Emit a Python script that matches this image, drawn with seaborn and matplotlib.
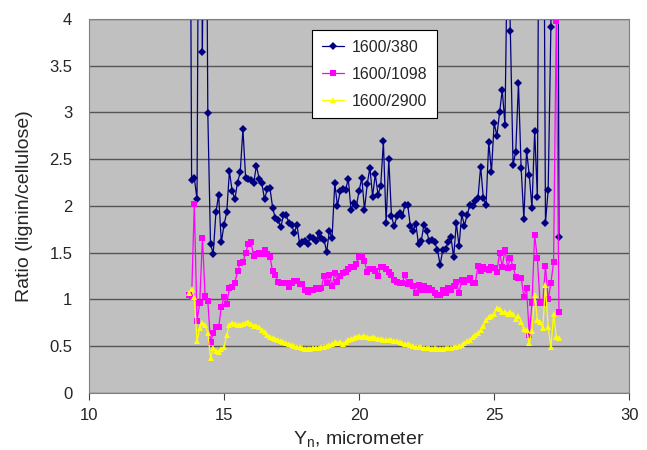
import numpy as np
import pandas as pd
import matplotlib
matplotlib.use("Agg")
import matplotlib.pyplot as plt
import seaborn as sns

# sample positions (micrometer), one reading every 0.1 um
y_pos = np.round(np.arange(137, 275) * 0.1, 1)

ratio_380 = [
    9.0, 2.28, 2.30, 2.07, 8.0, 3.65, 8.0, 2.99, 1.59, 1.49,
    1.93, 2.12, 1.61, 1.80, 1.93, 2.37, 2.16, 2.07, 2.25, 2.36,
    2.82, 2.30, 2.29, 2.28, 2.25, 2.43, 2.29, 2.24, 2.07, 2.18,
    2.19, 1.98, 1.87, 1.85, 1.77, 1.90, 1.90, 1.82, 1.80, 1.71,
    1.80, 1.59, 1.61, 1.62, 1.59, 1.67, 1.66, 1.62, 1.71, 1.66,
    1.64, 1.51, 1.73, 1.66, 2.24, 2.00, 2.16, 2.18, 2.17, 2.29,
    1.96, 2.03, 2.00, 2.16, 2.30, 1.96, 2.23, 2.41, 2.10, 2.34,
    2.12, 2.21, 2.69, 1.82, 2.50, 1.89, 1.78, 1.89, 1.92, 1.89,
    2.01, 2.01, 1.78, 1.73, 1.81, 1.59, 1.62, 1.80, 1.73, 1.62,
    1.63, 1.61, 1.53, 1.37, 1.53, 1.54, 1.61, 1.67, 1.45, 1.82,
    1.57, 1.91, 1.79, 1.90, 2.01, 2.00, 2.05, 2.08, 2.42, 2.08,
    2.01, 2.68, 2.36, 2.89, 2.75, 3.00, 3.24, 2.87, 5.0, 3.87,
    2.44, 2.58, 3.31, 2.40, 1.86, 2.59, 2.33, 1.98, 2.80, 2.09,
    8.0, 8.0, 1.82, 2.17, 3.91, 9.0, 12.0, 1.67,
]

ratio_1098 = [
    1.05, 1.02, 2.02, 0.77, 0.96, 1.66, 1.04, 0.98, 0.54, 0.64,
    0.70, 0.70, 0.92, 1.02, 0.95, 1.12, 1.13, 1.18, 1.30, 1.39,
    1.40, 1.50, 1.59, 1.61, 1.46, 1.48, 1.50, 1.49, 1.53, 1.48,
    1.45, 1.30, 1.26, 1.19, 1.18, 1.18, 1.18, 1.13, 1.18, 1.20,
    1.20, 1.16, 1.16, 1.10, 1.08, 1.10, 1.10, 1.12, 1.11, 1.12,
    1.25, 1.18, 1.26, 1.14, 1.28, 1.19, 1.25, 1.28, 1.29, 1.33,
    1.35, 1.35, 1.38, 1.45, 1.46, 1.41, 1.29, 1.32, 1.33, 1.30,
    1.25, 1.35, 1.35, 1.33, 1.29, 1.26, 1.21, 1.19, 1.18, 1.18,
    1.26, 1.16, 1.19, 1.14, 1.07, 1.15, 1.10, 1.14, 1.10, 1.12,
    1.10, 1.07, 1.05, 1.05, 1.10, 1.07, 1.12, 1.10, 1.14, 1.19,
    1.07, 1.21, 1.19, 1.21, 1.23, 1.18, 1.17, 1.36, 1.30, 1.35,
    1.32, 1.31, 1.35, 1.34, 1.29, 1.50, 1.35, 1.53, 1.34, 1.44,
    1.35, 1.24, 1.23, 1.23, 1.03, 1.12, 0.62, 0.96, 1.69, 1.44,
    0.96, 0.96, 1.36, 1.00, 1.17, 1.40, 3.98, 0.86,
]

ratio_2900 = [
    1.07, 1.11, 1.02, 0.55, 0.69, 0.75, 0.73, 0.64, 0.37, 0.48,
    0.45, 0.44, 0.47, 0.49, 0.62, 0.73, 0.75, 0.74, 0.73, 0.73,
    0.74, 0.75, 0.76, 0.74, 0.72, 0.71, 0.70, 0.67, 0.65, 0.62,
    0.60, 0.59, 0.58, 0.57, 0.55, 0.54, 0.53, 0.52, 0.51, 0.50,
    0.49, 0.49, 0.48, 0.47, 0.47, 0.47, 0.48, 0.48, 0.48, 0.49,
    0.49, 0.50, 0.51, 0.52, 0.54, 0.53, 0.54, 0.52, 0.54, 0.57,
    0.58, 0.59, 0.60, 0.61, 0.60, 0.61, 0.60, 0.59, 0.60, 0.59,
    0.58, 0.58, 0.57, 0.57, 0.56, 0.56, 0.55, 0.55, 0.54, 0.53,
    0.52, 0.52, 0.51, 0.50, 0.49, 0.49, 0.49, 0.48, 0.48, 0.48,
    0.47, 0.48, 0.47, 0.47, 0.47, 0.48, 0.48, 0.48, 0.49, 0.49,
    0.50, 0.51, 0.53, 0.55, 0.57, 0.60, 0.62, 0.64, 0.67, 0.71,
    0.78, 0.81, 0.82, 0.84, 0.91, 0.90, 0.86, 0.87, 0.84, 0.86,
    0.84, 0.79, 0.82, 0.76, 0.68, 0.67, 0.53, 0.66, 1.05, 0.78,
    0.76, 0.69, 1.15, 0.70, 0.49, 0.84, 0.60, 0.59,
]

series_names = ["1600/380", "1600/1098", "1600/2900"]
series_colors = ["#000080", "#FF00FF", "#FFFF00"]
series_markers = ["D", "s", "^"]
x_ticks = [10, 15, 20, 25, 30]
y_ticks = [0, 0.5, 1, 1.5, 2, 2.5, 3, 3.5, 4]

sns.set_style("white")
plt.rcParams["font.family"] = ["Liberation Sans", "DejaVu Sans"]

fig = plt.figure(figsize=(6.47, 4.5), dpi=100)
ax = fig.add_axes([0.1375, 0.127, 0.835, 0.831])
ax.set_facecolor("#c0c0c0")

for name, vals, col, mk in zip(series_names, [ratio_380, ratio_1098, ratio_2900],
                               series_colors, series_markers):
    df = pd.DataFrame({"x": y_pos, "y": vals})
    sns.lineplot(data=df, x="x", y="y", ax=ax, color=col, marker=mk,
                 markersize=4, markeredgewidth=0, linewidth=0.9,
                 estimator=None, sort=False, label=name)

ax.set_xlim(10, 30)
ax.set_ylim(0, 4)
ax.set_xticks(x_ticks)
ax.set_xticklabels([str(t) for t in x_ticks])
ax.set_yticks(y_ticks)
ax.set_yticklabels(["0", "0.5", "1", "1.5", "2", "2.5", "3", "3.5", "4"])
ax.yaxis.grid(True, color="#303030", linewidth=1.0, alpha=0.75)
ax.set_axisbelow(True)
ax.tick_params(axis="x", direction="out", length=5, width=0.8, color="#404040",
               labelsize=12, pad=6, bottom=True)
ax.tick_params(axis="y", length=0, labelsize=12, pad=12)
for s in ax.spines.values():
    s.set_color("#808080")
    s.set_linewidth(0.8)

ax.set_xlabel(r"Y$_\mathregular{n}$, micrometer", fontsize=14, labelpad=5)
ax.set_ylabel("Ratio (lignin/cellulose)", fontsize=14, labelpad=12)

leg = ax.legend(loc="upper left", bbox_to_anchor=(0.413, 0.97), borderaxespad=0,
                fontsize=11.5, frameon=True, fancybox=False, edgecolor="black",
                framealpha=1, handlelength=1.4, handletextpad=0.5,
                borderpad=0.6, labelspacing=0.75)
leg.get_frame().set_linewidth(0.8)

fig.savefig("out.png", dpi=100, facecolor="white")
